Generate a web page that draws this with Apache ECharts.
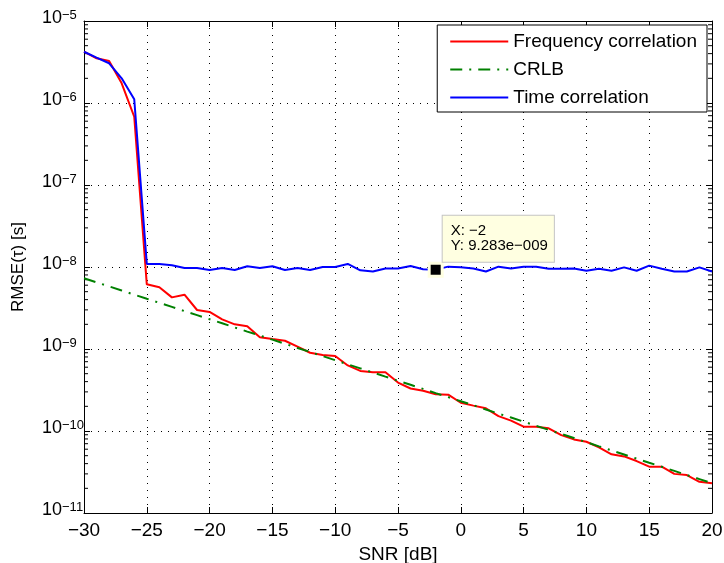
<!DOCTYPE html>
<html><head><meta charset="utf-8">
<script src="https://cdn.jsdelivr.net/npm/echarts@6/dist/echarts.min.js"></script>
<style>html,body{margin:0;padding:0;background:#fff}#c{width:724px;height:563px}</style>
</head><body><div id="c"></div>
<script>
// ---- data ----
const snr = [-30,-29,-28,-27,-26,-25,-24,-23,-22,-21,-20,-19,-18,-17,-16,-15,-14,-13,-12,-11,-10,-9,-8,-7,-6,-5,-4,-3,-2,-1,0,1,2,3,4,5,6,7,8,9,10,11,12,13,14,15,16,17,18,19,20];
const freqCorr = [4.22e-6,3.51e-6,3.25e-6,1.74e-6,6.8e-7,6.15e-9,5.65e-9,4.26e-9,4.6e-9,2.99e-9,2.83e-9,2.3e-9,2.0e-9,1.9e-9,1.39e-9,1.32e-9,1.26e-9,1.07e-9,9.0e-10,8.45e-10,8.2e-10,6.3e-10,5.4e-10,5.2e-10,5.2e-10,3.9e-10,3.3e-10,3.1e-10,2.8e-10,2.77e-10,2.21e-10,2.04e-10,1.89e-10,1.52e-10,1.34e-10,1.13e-10,1.13e-10,1.08e-10,8.9e-11,7.9e-11,7.4e-11,6.3e-11,5.2e-11,4.9e-11,4.3e-11,3.67e-11,3.67e-11,3.0e-11,2.9e-11,2.4e-11,2.3e-11];
const crlb = [7.3e-9,6.5e-9,5.8e-9,5.17e-9,4.6e-9,4.1e-9,3.66e-9,3.26e-9,2.9e-9,2.59e-9,2.31e-9,2.06e-9,1.83e-9,1.63e-9,1.46e-9,1.3e-9,1.16e-9,1.03e-9,9.2e-10,8.2e-10,7.3e-10,6.5e-10,5.8e-10,5.17e-10,4.6e-10,4.1e-10,3.66e-10,3.26e-10,2.9e-10,2.59e-10,2.31e-10,2.06e-10,1.83e-10,1.63e-10,1.46e-10,1.3e-10,1.16e-10,1.03e-10,9.2e-11,8.2e-11,7.3e-11,6.5e-11,5.8e-11,5.17e-11,4.6e-11,4.1e-11,3.66e-11,3.26e-11,2.9e-11,2.59e-11,2.31e-11];
const timeCorr = [4.22e-6,3.57e-6,3.05e-6,2.0e-6,1.11e-6,1.09e-8,1.09e-8,1.05e-8,9.7e-9,9.7e-9,9.2e-9,9.7e-9,9.2e-9,1.02e-8,9.7e-9,1.02e-8,9.2e-9,9.7e-9,9.2e-9,1.0e-8,1.0e-8,1.09e-8,9.1e-9,8.8e-9,9.6e-9,9.6e-9,1.03e-8,9.4e-9,9.283e-9,1.01e-8,9.9e-9,9.6e-9,8.8e-9,1.01e-8,9.6e-9,1.01e-8,1.01e-8,9.5e-9,9.5e-9,9.6e-9,9.0e-9,9.5e-9,9.0e-9,9.9e-9,9.0e-9,1.04e-8,9.5e-9,8.8e-9,8.8e-9,9.9e-9,8.8e-9];
const seriesNames = ['Frequency correlation','CRLB','Time correlation'];
const xMin = -30, xMax = 20, xStep = 5;
const yMin = 1e-11, yMax = 1e-5;
const minorDecades = [-11,-10,-9,-8,-7,-6];
const minorMantissas = [2,3,4,5,6,7,8,9];
const tipX = -2, tipY = 9.283e-9;
const xName = 'SNR [dB]', yName = 'RMSE(\u03c4) [s]';

// ---- chart ----
const FONT = '"Liberation Sans", Arial, Helvetica, sans-serif';
const minus = s => String(s).replace('-', '\u2212');
const pairs = arr => snr.map((x, i) => [x, arr[i]]);
const minorTicks = [];
minorDecades.forEach(d => minorMantissas.forEach(m => minorTicks.push([xMin, +(m + 'e' + d)])));
const tipYText = (() => { const p = tipY.toExponential(3).split('e'); const e = parseInt(p[1], 10);
  return p[0] + 'e' + (e < 0 ? '\u2212' : '+') + String(Math.abs(e)).padStart(3, '0'); })();

const chart = echarts.init(document.getElementById('c'), null, {renderer: 'canvas'});
const axisLineStyle = {show: true, onZero: false, lineStyle: {color: '#000', width: 1}};
const gridLine = {show: true, lineStyle: {color: '#000', width: 1, type: [1, 6]}};
const option = {
  animation: false,
  backgroundColor: '#fff',
  grid: {left: 84, right: 12, top: 21, bottom: 50, containLabel: false, outerBoundsMode: 'none'},
  xAxis: [
    {type: 'value', min: xMin, max: xMax, interval: xStep, position: 'bottom',
     axisLine: axisLineStyle, axisTick: {inside: true, length: 6, lineStyle: {color: '#000'}},
     axisLabel: {fontSize: 19, color: '#000', fontFamily: FONT, margin: 8, formatter: v => minus(v)},
     splitLine: gridLine,
     name: xName, nameLocation: 'middle', nameGap: 29,
     nameTextStyle: {fontSize: 19, color: '#000', fontFamily: FONT}},
    {type: 'value', min: xMin, max: xMax, interval: xStep, position: 'top',
     axisLine: axisLineStyle, axisTick: {inside: true, length: 6, lineStyle: {color: '#000'}},
     axisLabel: {show: false}, splitLine: {show: false}}
  ],
  yAxis: [
    {type: 'log', logBase: 10, min: yMin, max: yMax, position: 'left',
     axisLine: axisLineStyle, axisTick: {inside: true, length: 6, lineStyle: {color: '#000'}},
     axisLabel: {margin: 42, align: 'left', padding: [0, 0, 6, 0],
       formatter: v => '{b|10}{s|' + minus(Math.round(Math.log10(v))) + '}',
       rich: {b: {fontSize: 18, fontFamily: FONT, color: '#000', verticalAlign: 'bottom', lineHeight: 18, padding: [6, 0, 0, 0]},
              s: {fontSize: 13, fontFamily: FONT, color: '#000', verticalAlign: 'top', lineHeight: 13}}},
     splitLine: gridLine,
     name: yName, nameLocation: 'middle', nameGap: 57, nameRotate: 90,
     nameTextStyle: {fontSize: 17, color: '#000', fontFamily: FONT}},
    {type: 'log', logBase: 10, min: yMin, max: yMax, position: 'right',
     axisLine: axisLineStyle, axisTick: {inside: true, length: 6, lineStyle: {color: '#000'}},
     axisLabel: {show: false}, splitLine: {show: false}}
  ],
  legend: {
    data: seriesNames, orient: 'vertical', right: 17, top: 25,
    backgroundColor: '#fff', borderColor: '#000', borderWidth: 1, borderRadius: 0,
    padding: [7, 10, 5, 12], itemGap: 9, itemWidth: 58, itemHeight: 19,
    itemStyle: {opacity: 0},
    textStyle: {fontSize: 19, fontFamily: FONT, color: '#000'}
  },
  series: [
    {type: 'custom', name: 'minorTicks', coordinateSystem: 'cartesian2d', silent: true, clip: false,
     data: minorTicks, encode: {x: 0, y: 1}, z: 1,
     renderItem: (params, api) => {
       const v = api.value(1);
       const l = api.coord([xMin, v]), r = api.coord([xMax, v]);
       return {type: 'group', children: [
         {type: 'line', shape: {x1: l[0], y1: l[1], x2: l[0] + 4, y2: l[1]}, style: {stroke: '#000', lineWidth: 1}},
         {type: 'line', shape: {x1: r[0] - 4, y1: r[1], x2: r[0], y2: r[1]}, style: {stroke: '#000', lineWidth: 1}}
       ]};
     }},
    {type: 'line', name: seriesNames[0], data: pairs(freqCorr), symbol: 'none', showSymbol: false,
     lineStyle: {color: '#ff0000', width: 2}, itemStyle: {color: '#ff0000'}, z: 3},
    {type: 'line', name: seriesNames[1], data: pairs(crlb), symbol: 'none', showSymbol: false,
     lineStyle: {color: '#008000', width: 2, type: [12, 7, 2, 7]}, itemStyle: {color: '#008000'}, z: 3},
    {type: 'line', name: seriesNames[2], data: pairs(timeCorr), symbol: 'none', showSymbol: false,
     lineStyle: {color: '#0000ff', width: 2}, itemStyle: {color: '#0000ff'}, z: 4,
     markPoint: {
       symbol: 'rect', symbolSize: 13, silent: true, animation: false,
       itemStyle: {color: '#000', borderColor: '#ffffe1', borderWidth: 3},
       label: {show: true, position: [15, -46], formatter: 'X: ' + minus(tipX) + '\nY: ' + tipYText,
         fontSize: 15, lineHeight: 15, fontFamily: FONT, color: '#000',
         backgroundColor: '#ffffe1', borderColor: '#c4c4c4', borderWidth: 1, padding: [8, 6, 8, 8]},
       data: [{coord: [tipX, tipY]}]
     }}
  ]
};
chart.setOption(option);
</script></body></html>
